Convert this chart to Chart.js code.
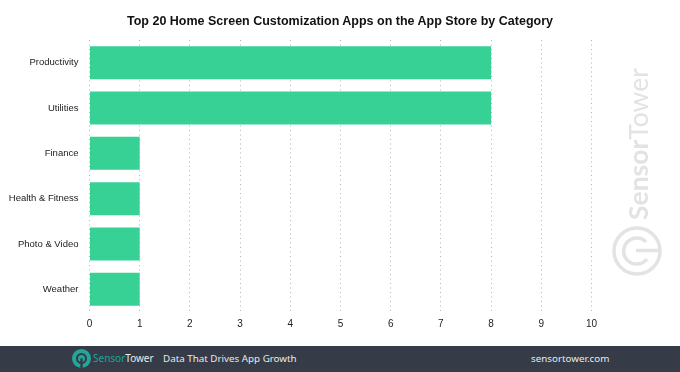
<!DOCTYPE html>
<html>
<head>
<meta charset="utf-8">
<script src="https://cdn.jsdelivr.net/npm/chart.js@4"></script>
<style>
  html, body { margin: 0; padding: 0; background: #fff; }
  #wrap { position: relative; width: 680px; height: 372px; overflow: hidden; }
  #chart { position: absolute; left: 0; top: 0; }
  #title { position: absolute; left: 0; top: 13px; width: 680px; text-align: center; font: bold 12.5px "Liberation Sans", Arial, sans-serif; color: #111; line-height: 16px; }
  #footer { position: absolute; left: 0; top: 346px; width: 680px; height: 26px; background: #353b47; font-family: "Noto Sans", sans-serif; font-size: 9.8px; color: #e8eaec; line-height: 25px; }
  #footer span { position: absolute; top: 0; white-space: nowrap; }
  #footer svg { position: absolute; left: 72px; top: 3px; }
  #mark { position: absolute; left: 612px; top: 226px; }
  #markText { position: absolute; left: 638px; top: 220px; transform-origin: 0 0; transform: rotate(-90deg) translateY(-50%); font-family: Lato, sans-serif; font-size: 26.5px; line-height: 30px; color: #e1e3e4; white-space: nowrap; }
</style>
</head>
<body>
<div id="wrap">
  <canvas id="chart" width="680" height="372"></canvas>
  <div id="title">Top 20 Home Screen Customization Apps on the App Store by Category</div>
  <svg id="mark" width="50" height="50" viewBox="0 0 50 50" fill="none" stroke="#e1e3e4" stroke-width="3.5">
    <circle cx="25" cy="25" r="23"/>
    <path d="M34 16 A13 13 0 1 0 35 33"/>
    <path d="M24 24.5 H48"/>
  </svg>
  <div id="markText"><b>Sensor</b>Tower</div>
  <div id="footer">
    <svg width="19" height="19" viewBox="0 0 19 19" fill="none">
      <circle cx="9.5" cy="9.5" r="9.5" fill="#22a699"/>
      <circle cx="9.5" cy="9.5" r="4.5" stroke="#353b47" stroke-width="2"/>
      <path d="M9.5 9.5 V19" stroke="#353b47" stroke-width="2.4"/>
    </svg>
    <span style="left:93px;font-size:10px"><b style="font-weight:400;color:#22a699">Sensor</b>Tower</span>
    <span style="left:163px">Data That Drives App Growth</span>
    <span style="left:531px">sensortower.com</span>
  </div>
</div>
<script>
const categories = ["Productivity", "Utilities", "Finance", "Health & Fitness", "Photo & Video", "Weather"];
const appCounts = [8, 8, 1, 1, 1, 1];
const xTicks = [0, 1, 2, 3, 4, 5, 6, 7, 8, 9, 10];

const fontName = '"Liberation Sans", Arial, sans-serif';

new Chart(document.getElementById("chart"), {
  type: "bar",
  data: {
    labels: categories,
    datasets: [{ data: appCounts, backgroundColor: "#37d196", categoryPercentage: 0.727, barPercentage: 1 }]
  },
  options: {
    indexAxis: "y",
    responsive: false,
    animation: false,
    layout: { padding: { top: 40, right: 88.5, bottom: 0, left: 0 } },
    plugins: {
      legend: { display: false },
      tooltip: { enabled: false }
    },
    scales: {
      x: {
        min: 0, max: 10,
        afterBuildTicks: s => { s.ticks = xTicks.map(v => ({ value: v })); },
        afterFit: s => { s.height = 60; },
        grid: { color: "#b4b4b4", lineWidth: 1, drawTicks: false },
        border: { display: false, dash: [1, 3.5] },
        ticks: { color: "#222", font: { family: fontName, size: 10 }, padding: 6, maxRotation: 0 }
      },
      y: {
        afterFit: s => { s.width = 89.5; },
        grid: { display: false },
        border: { display: false },
        ticks: { color: "#222", font: { family: fontName, size: 9.5 }, padding: 3 }
      }
    }
  }
});
</script>
</body>
</html>
